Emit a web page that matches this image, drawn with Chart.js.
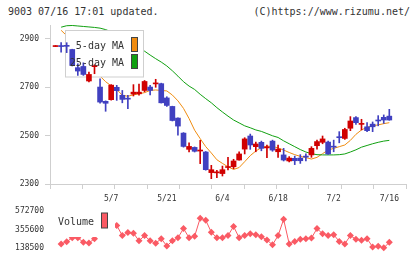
<!DOCTYPE html>
<html><head><meta charset="utf-8">
<script src="https://cdn.jsdelivr.net/npm/chart.js@4/dist/chart.umd.min.js"></script>
<style>
html,body{margin:0;padding:0;background:#fff;width:420px;height:259px;overflow:hidden;}
#wrap{position:relative;width:420px;height:259px;}
.hdr{position:absolute;top:5px;font:10px "DejaVu Sans Mono",monospace;color:#333;white-space:pre;line-height:14px;}
canvas{position:absolute;left:0;}
</style></head><body>
<div id="wrap">
<div class="hdr" style="left:8px">9003 07/16 17:01 updated.</div>
<div class="hdr" style="right:10px">(C)https://www.rizumu.net/</div>
<canvas id="main" width="420" height="215" style="top:0"></canvas>
<canvas id="vol" width="420" height="59" style="top:200px"></canvas>
</div>
<script>
// ---- data ----
const tickPos    = [10, 20, 30, 40, 50, 60];
const tickLabels = ['5/7', '5/21', '6/4', '6/18', '7/2', '7/16'];
const priceTicks = [2300, 2500, 2700, 2900];
const volTicks   = [138500, 355600, 572700];

const open  = [2867,2869,2870,2855,2780,2785,2725,2784,2700,2641,2648,2699,2666,2652,2671,2672,2686,2700,2713,2714,
               2655,2620,2572,2510,2443,2451,2436,2432,2347,2346,2343,2368,2371,2399,2444,2498,2454,2472,2449,2477,
               2433,2420,2395,2406,2407,2413,2420,2458,2472,2473,2454,2493,2488,2530,2574,2546,2536,2547,2562,2575,2580];
const high  = [2868,2883,2883,2856,2796,2800,2762,2792,2734,2643,2710,2707,2686,2666,2710,2712,2727,2707,2732,2716,
               2660,2621,2573,2512,2470,2453,2480,2434,2377,2356,2374,2410,2402,2433,2491,2506,2473,2477,2461,2481,
               2461,2447,2413,2415,2421,2424,2454,2481,2498,2477,2481,2516,2530,2578,2578,2567,2553,2556,2582,2585,2608];
const low   = [2867,2844,2842,2787,2748,2748,2721,2755,2634,2600,2646,2645,2635,2611,2663,2666,2680,2668,2699,2634,
               2620,2560,2501,2452,2432,2432,2384,2357,2322,2326,2333,2358,2363,2398,2424,2443,2433,2437,2409,2435,
               2410,2395,2391,2380,2385,2395,2410,2444,2466,2422,2433,2470,2484,2520,2546,2523,2516,2516,2540,2550,2563];
const close = [2868,2867,2868,2789,2766,2752,2752,2786,2638,2633,2708,2685,2649,2650,2679,2679,2723,2686,2715,2635,
               2624,2562,2539,2455,2455,2435,2438,2359,2359,2348,2359,2370,2395,2424,2486,2461,2465,2447,2451,2440,
               2444,2399,2407,2396,2396,2411,2447,2475,2486,2424,2452,2491,2525,2560,2553,2548,2520,2536,2560,2564,2564];
const ma5   = [null,2934,2912,2880,2845,2812,2790,2775,2745,2722,2705,2690,2666,2662,2668,2672,2677,2686,2688,2686,
               2684,2667,2643,2612,2570,2522,2487,2454,2428,2400,2385,2371,2360,2368,2392,2417,2436,2450,2456,2455,
               2449,2440,2430,2421,2414,2409,2403,2410,2425,2440,2447,2454,2461,2480,2505,2523,2534,2540,2544,2549,2553];
const ma25  = [null,2947,2953,2954,2952,2950,2948,2946,2943,2937,2928,2915,2900,2885,2870,2860,2848,2832,2817,2803,
               2787,2767,2745,2722,2704,2690,2670,2652,2635,2615,2597,2580,2564,2552,2540,2532,2523,2517,2508,2499,
               2492,2478,2466,2454,2442,2432,2425,2421,2420,2420,2420,2421,2424,2432,2441,2452,2459,2466,2472,2477,2480];
const volume = [null,188600,213500,259800,259800,206500,199300,249200,340000,360000,330000,402100,284700,320300,313200,224200,284700,224200,195800,249200,
               163800,224200,259800,366600,259800,277600,487000,462600,323900,259800,259800,284700,391400,259800,284700,306100,295400,270500,234900,178000,
               284700,473300,188700,217100,242000,249200,256200,366600,306100,284700,295400,217100,188700,284700,242000,231300,249200,153100,160200,142400,206500];

// ---- styles ----
const UP = '#d00000', DOWN = '#4040c0';
const ORANGE = '#f08c10', GREEN = '#10a010', VOLC = '#fa5a64';
const AXIS = '#cfcfcf', TXT = '#333';
Chart.defaults.font.family = '"DejaVu Sans Mono", monospace';
Chart.defaults.font.size = 8;
Chart.defaults.color = TXT;

const xs = open.map((_, i) => i);
const candleColor = xs.map(i => close[i] >= open[i] ? UP : DOWN);

const legendPlugin = {
  id: 'maLegend',
  beforeDatasetDraw(chart, args) {
    if (args.index !== 2) return;
    const c = chart.ctx; c.save();
    c.fillStyle = '#fff'; c.fillRect(65, 30, 78, 47);
    c.strokeStyle = AXIS; c.lineWidth = 1; c.strokeRect(65.5, 30.5, 78, 46.5);
    c.restore();
  },
  afterDatasetsDraw(chart) {
    const c = chart.ctx; c.save();
    c.font = '10px "DejaVu Sans Mono", monospace';
    c.fillStyle = TXT; c.textAlign = 'right'; c.textBaseline = 'middle';
    c.fillText(chart.data.datasets[0].label, 124, 46);
    c.fillText(chart.data.datasets[1].label, 124, 63);
    c.strokeStyle = '#444'; c.lineWidth = 1;
    c.fillStyle = ORANGE; c.fillRect(131.5, 37.5, 6, 14); c.strokeRect(131.5, 37.5, 6, 14);
    c.fillStyle = GREEN;  c.fillRect(131.5, 54.5, 6, 14); c.strokeRect(131.5, 54.5, 6, 14);
    c.restore();
  }
};

new Chart(document.getElementById('main'), {
  type: 'bar',
  data: {
    datasets: [
      { type: 'line', label: '5-day MA', data: xs.map(i => ({x: i, y: ma5[i]})), borderColor: ORANGE, borderWidth: 1, pointRadius: 0, order: 10 },
      { type: 'line', label: '25-day MA', data: xs.map(i => ({x: i, y: ma25[i]})), borderColor: GREEN, borderWidth: 1, pointRadius: 0, order: 9 },
      { label: 'wick', data: xs.map(i => ({x: i, y: [low[i], high[i]]})), backgroundColor: candleColor, barThickness: 1, grouped: false, order: 2, minBarLength: 1 },
      { label: 'body', data: xs.map(i => ({x: i, y: [open[i], close[i]]})), backgroundColor: candleColor, barThickness: 5, grouped: false, order: 1, minBarLength: 1 }
    ]
  },
  options: {
    responsive: false, animation: false, devicePixelRatio: 1,
    layout: { padding: { top: 25, right: 14, bottom: 10, left: 0 } },
    plugins: { legend: { display: false }, tooltip: { enabled: false } },
    scales: {
      x: {
        type: 'linear', position: 'bottom', min: -1, max: 63, weight: 1, offset: false,
        grid: { display: false, drawTicks: false, offset: false }, border: { display: false },
        afterBuildTicks: s => { s.ticks = tickPos.map(v => ({ value: v })); },
        afterFit: s => { s.height = 16; },
        ticks: { autoSkip: false, maxRotation: 0, padding: 5, callback: (v) => tickLabels[tickPos.indexOf(v)] }
      },
      xg: {
        type: 'linear', position: 'bottom', min: 0, max: 11, weight: 0, offset: false,
        grid: { drawOnChartArea: false, color: AXIS, tickLength: 5, offset: false },
        border: { color: AXIS },
        ticks: { display: false, stepSize: 1 },
        afterFit: s => { s.height = 5; }
      },
      y: {
        type: 'linear', min: 2300, max: 2956,
        grid: { drawOnChartArea: false, color: AXIS, tickLength: 5 },
        border: { color: AXIS },
        afterBuildTicks: s => { s.ticks = priceTicks.map(v => ({ value: v })); },
        afterFit: s => { s.width = 50; },
        ticks: { padding: 6, callback: v => String(v) }
      }
    }
  },
  plugins: [legendPlugin]
});

const volLegend = {
  id: 'volLegend',
  afterDatasetsDraw(chart) {
    const c = chart.ctx; c.save();
    c.fillStyle = '#fff'; c.fillRect(54, 8, 61, 29);
    c.font = '10px "DejaVu Sans Mono", monospace';
    c.fillStyle = TXT; c.textAlign = 'left'; c.textBaseline = 'middle';
    c.fillText(chart.data.datasets[0].label, 58, 22.5);
    c.fillStyle = VOLC; c.fillRect(101.5, 13, 6, 15);
    c.strokeStyle = '#444'; c.lineWidth = 1; c.strokeRect(101.5, 13, 6, 15);
    c.restore();
  }
};

new Chart(document.getElementById('vol'), {
  type: 'line',
  data: {
    datasets: [{ label: 'Volume', data: xs.map(i => ({x: i, y: volume[i]})), borderColor: VOLC, backgroundColor: VOLC,
      borderWidth: 1, pointStyle: 'rectRot', pointRadius: 3.5, pointBorderWidth: 0, clip: false }]
  },
  options: {
    responsive: false, animation: false, devicePixelRatio: 1,
    layout: { padding: { top: 9, right: 14, bottom: 9.3, left: 0 } },
    plugins: { legend: { display: false }, tooltip: { enabled: false } },
    scales: {
      x: { type: 'linear', min: -1, max: 63, display: false },
      y: {
        type: 'linear', min: 138500, max: 572700,
        grid: { display: false, drawTicks: false }, border: { display: false },
        afterBuildTicks: s => { s.ticks = volTicks.map(v => ({ value: v })); },
        afterFit: s => { s.width = 50; },
        ticks: { padding: 6, callback: v => String(v) }
      }
    }
  },
  plugins: [volLegend]
});
</script>
</body></html>
